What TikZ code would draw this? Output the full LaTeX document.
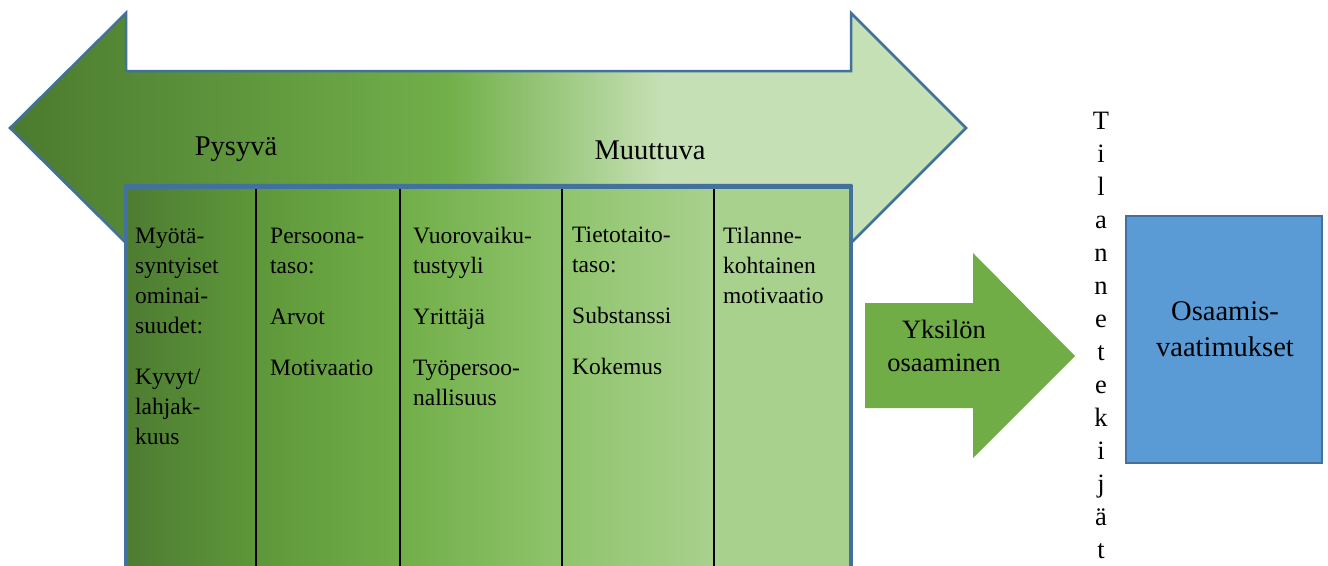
\documentclass[tikz,border=0pt]{standalone}
\usepackage{fontspec}
\setmainfont{Liberation Serif}
\definecolor{aA}{HTML}{4A7A2E}
\definecolor{aB}{HTML}{72B04A}
\definecolor{aC}{HTML}{C5E0B4}
\definecolor{tA}{HTML}{4D7B31}
\definecolor{tB}{HTML}{5E973A}
\definecolor{tC}{HTML}{71AE48}
\definecolor{tD}{HTML}{8FC46C}
\definecolor{tE}{HTML}{A9D18E}
\definecolor{outl}{HTML}{41719C}
\definecolor{midgreen}{HTML}{70AD47}
\definecolor{reqblue}{HTML}{5B9BD5}
\tikzset{
  outline/.style={draw=outl, line width=2.5pt, line join=miter},
  coltext/.style={anchor=base west, inner sep=0pt},
  divider/.style={draw=black, line width=1.8pt},
}
\newcommand{\coltxt}[1]{\parbox[t]{140pt}{\raggedright\fontsize{23.5}{30}\selectfont #1}}
\begin{document}
\begin{tikzpicture}[x=1pt,y=-1pt]
\useasboundingbox (0,0) rectangle (1328,565);
% big double arrow
\def\bigarrow{(10,128) -- (126,13) -- (126,71) -- (851,71) -- (851,13) -- (966,128) -- (851,243) -- (851,185) -- (126,185) -- (126,243) -- cycle}
\begin{scope}
  \clip \bigarrow;
  \shade[left color=aA, right color=aB] (5,5) rectangle (452,250);
  \shade[left color=aB, right color=aC] (450,5) rectangle (662,250);
  \fill[aC] (660,5) rectangle (975,250);
\end{scope}
\draw[outline] \bigarrow;
% table
\begin{scope}
  \clip (126,187) rectangle (851,575);
  \shade[left color=tA, right color=tB] (120,180) rectangle (257,580);
  \shade[left color=tB, right color=tC] (256,180) rectangle (401,580);
  \shade[left color=tC, right color=tD] (400,180) rectangle (563,580);
  \shade[left color=tD, right color=tE] (562,180) rectangle (715,580);
  \fill[tE] (714,180) rectangle (860,580);
\end{scope}
\draw[outline, line width=3.5pt] (126,575) -- (126,187) -- (851,187) -- (851,575);
\coordinate (d1t) at (256,189); \coordinate (d1b) at (256,570);
\coordinate (d2t) at (400,189); \coordinate (d2b) at (400,570);
\coordinate (d3t) at (562,189); \coordinate (d3b) at (562,570);
\coordinate (d4t) at (714,189); \coordinate (d4b) at (714,570);
\draw[divider] (d1t) -- (d1b);
\draw[divider] (d2t) -- (d2b);
\draw[divider] (d3t) -- (d3b);
\draw[divider] (d4t) -- (d4b);
% labels on arrow
\node[anchor=base, inner sep=0pt, font=\fontsize{28.5}{34}\selectfont] (pys) at (236,155) {Pysyvä};
\node[anchor=base, inner sep=0pt, font=\fontsize{28.5}{34}\selectfont] (muu) at (650,159) {Muuttuva};
% column texts
\node[coltext] (c1) at (135,243) {\coltxt{Myötä-\\syntyiset\\ominai-\\suudet:\\[21pt]Kyvyt/\\lahjak-\\kuus}};
\node[coltext] (c2) at (270,243) {\coltxt{Persoona-\\taso:\\[21pt]Arvot\\[21pt]Motivaatio}};
\node[coltext] (c3) at (413,243) {\coltxt{Vuorovaiku-\\tustyyli\\[21pt]Yrittäjä\\[21pt]Työpersoo-\\nallisuus}};
\node[coltext] (c4) at (572,242) {\coltxt{Tietotaito-\\taso:\\[21pt]Substanssi\\[21pt]Kokemus}};
\node[coltext] (c5) at (723,243) {\coltxt{Tilanne-\\kohtainen\\motivaatio}};
% small arrow
\fill[midgreen] (865,303) -- (973,303) -- (973,253) -- (1075,356) -- (973,458) -- (973,408) -- (865,408) -- cycle;
\node[anchor=base, inner sep=0pt] (yks) at (944,338) {\parbox[t]{160pt}{\centering\fontsize{26.5}{33}\selectfont Yksilön\\osaaminen}};
% vertical text
\node[anchor=base, inner sep=0pt] (tila) at (1101,129.5) {\parbox[t]{30pt}{\centering\fontsize{26.5}{33}\selectfont T\\i\\l\\a\\n\\n\\e\\t\\e\\k\\i\\j\\ä\\t}};
% requirement box
\node[draw=outl, fill=reqblue, line width=2.5pt, minimum width=196pt, minimum height=247pt, inner sep=0pt] (req) at (1224,339.5) {};
\node[anchor=base, inner sep=0pt] (reqt) at (1225,320) {\parbox[t]{190pt}{\centering\fontsize{28.5}{36}\selectfont Osaamis-\\vaatimukset}};
\end{tikzpicture}
\end{document}
